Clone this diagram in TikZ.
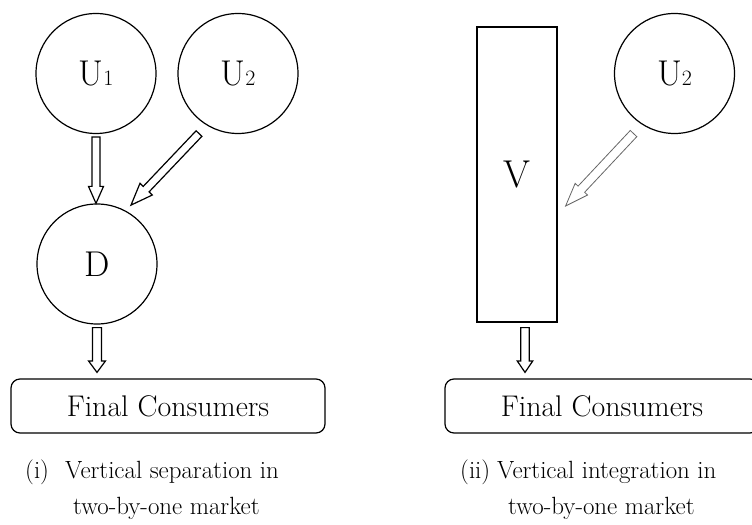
\documentclass[tikz,border=0pt]{standalone}
\usetikzlibrary{calc}
\newcommand{\smalldigit}[1]{{\fontsize{22}{24}\selectfont #1}}
\newcommand{\harrow}[6][]{%
  \coordinate (hb) at ($(#3)!#6!(#2)$);
  \draw[#1] ($(#2)!#4!90:(#3)$) -- ($(hb)!#4!-90:(#2)$) -- ($(hb)!#5!-90:(#2)$) -- (#3)
    -- ($(hb)!#5!90:(#2)$) -- ($(hb)!#4!90:(#2)$) -- ($(#2)!#4!-90:(#3)$) -- cycle;}
\tikzset{
  ln/.style={line width=1.2bp},
  circ/.style={ln, draw, circle, minimum size=120bp, inner sep=0pt, font=\fontsize{36}{40}\selectfont},
  fcbox/.style={ln, draw, rounded corners=9bp, minimum width=314bp, minimum height=54bp, inner sep=0pt, font=\fontsize{30}{36}\selectfont},
  vbox/.style={ln, draw, minimum width=80bp, minimum height=295bp, inner sep=0pt, font=\fontsize{39}{44}\selectfont},
  captext/.style={anchor=base west, inner sep=0pt, font=\fontsize{25}{30}\selectfont},
  harr/.style={line width=1.2bp, fill=white, draw=black},
  harrthin/.style={line width=0.8bp, fill=white, draw=black!60}
}
\begin{document}
\begin{tikzpicture}[x=1bp,y=-1bp]
\useasboundingbox (0,0) rectangle (752,525);
% nodes
\node[circ] (U1) at (96,73.5) {U\smalldigit{1}};
\node[circ] (U2) at (238,73.5) {U\smalldigit{2}};
\node[circ] (D) at (97,264) {D};
\node[fcbox] (FC1) at (168,406) {Final Consumers};
\node[vbox] (V) at (517,174.5) {V};
\node[circ] (U2r) at (674.5,73.5) {U\smalldigit{2}};
\node[fcbox] (FC2) at (602,406) {Final Consumers};
% captions
\node[captext] (c1a) at (25,478) {(i)};
\node[captext] (c1b) at (65,478) {Vertical separation in};
\node[captext] (c1c) at (73,514) {two-by-one market};
\node[captext] (c2a) at (460,478) {(ii)};
\node[captext] (c2b) at (497,478) {Vertical integration in};
\node[captext] (c2c) at (508,514) {two-by-one market};
% arrows
\coordinate (a1s) at ($(U1.south)+(0,-3bp)$);
\coordinate (a1t) at (a1s |- D.north);
\harrow[harr]{a1s}{a1t}{4bp}{7.5bp}{17bp}
\coordinate (a2s) at ($(U2.center)+(237:71.6bp)$);
\coordinate (a2t) at ($(D.center)+(60:68bp)$);
\harrow[harr]{a2s}{a2t}{4bp}{8.5bp}{22bp}
\coordinate (a3s) at ($(U2r.center)+(235.7:72.7bp)$);
\coordinate (a3t) at ($(V.east)+(8bp,-31.5bp)$);
\harrow[harrthin]{a3s}{a3t}{4.5bp}{8.5bp}{23bp}
\coordinate (a4s) at ($(D.south)+(0,-3bp)$);
\coordinate (a4t) at ($(a4s |- FC1.north)+(0,6bp)$);
\harrow[harr]{a4s}{a4t}{4.5bp}{8.5bp}{11.5bp}
\coordinate (a5s) at ($(V.south)+(8bp,-5bp)$);
\coordinate (a5t) at ($(a5s |- FC2.north)+(0,6bp)$);
\harrow[harr]{a5s}{a5t}{4.2bp}{7.8bp}{11.5bp}
\end{tikzpicture}
\end{document}
